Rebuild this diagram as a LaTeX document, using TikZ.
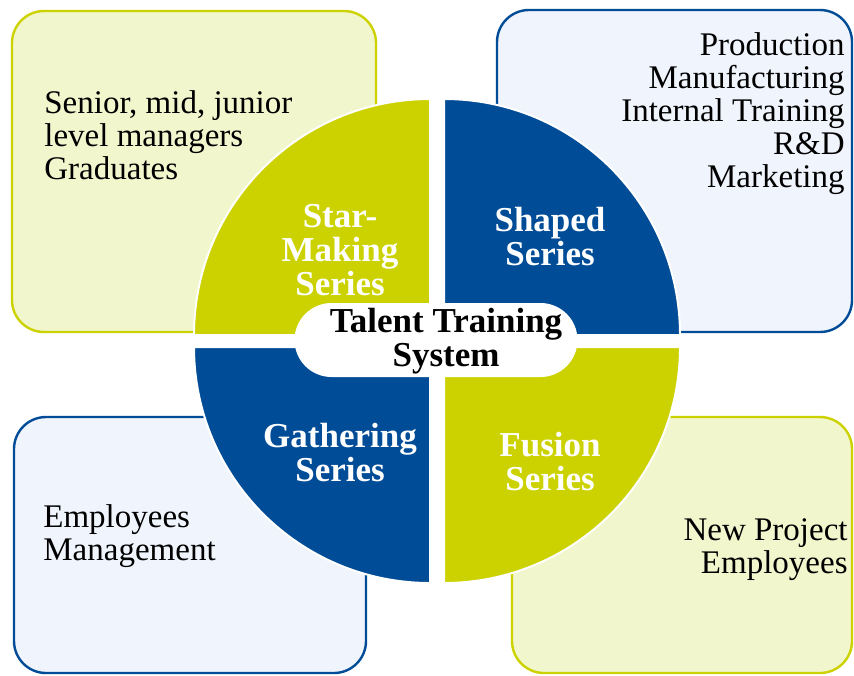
\documentclass[tikz,border=0pt]{standalone}
\usepackage{fontspec}
\setmainfont{Liberation Serif}
\definecolor{lime}{RGB}{204,210,0}
\definecolor{limepale}{RGB}{242,246,204}
\definecolor{navy}{RGB}{0,76,151}
\definecolor{navypale}{RGB}{240,244,252}

\begin{document}
\begin{tikzpicture}[x=0.5pt, y=-0.5pt,
    panel/.style={line width=1.2pt, rounded corners=16pt},
    quarter/.style={draw=white, line width=1pt},
    plain/.style={font=\fontsize{16.5}{16.5}\selectfont, inner sep=0pt},
    heavy/.style={font=\bfseries\fontsize{17.5}{17}\selectfont, inner sep=0pt, align=center}]
      \useasboundingbox (0,0) rectangle (854,675);
      % Draw the boxes
      \draw[panel, draw=lime, fill=limepale] (12,11) rectangle (376,332);
      \draw[panel, draw=navy, fill=navypale] (497,10) rectangle (852,332);
      \draw[panel, draw=navy, fill=navypale] (14,417) rectangle (366,673);
      \draw[panel, draw=lime, fill=limepale] (512,417) rectangle (852,673);
      % Draw the quarters
      \filldraw[quarter, fill=lime] (430,335) -- (194,335) arc[start angle=180, end angle=90, radius=118pt] -- cycle;
      \filldraw[quarter, fill=navy] (444,335) -- (444,99) arc[start angle=90, end angle=0, radius=118pt] -- cycle;
      \filldraw[quarter, fill=navy] (430,347) -- (194,347) arc[start angle=180, end angle=270, radius=118pt] -- cycle;
      \filldraw[quarter, fill=lime] (444,347) -- (680,347) arc[start angle=0, end angle=-90, radius=118pt] -- cycle;
      % Draw the core
      \node[fill=white, rounded corners=18.5pt, minimum width=141.5pt, minimum height=37pt, inner sep=0pt] (core) at (436,340) {};
      \node[heavy] (title) at (446,341) {Talent Training\\System};
      % Draw the series names
      \node[heavy, text=white] (star) at (340,250) {Star-\\Making\\Series};
      \node[heavy, text=white] (shaped) at (550,237) {Shaped\\Series};
      \node[heavy, text=white] (gather) at (340,453) {Gathering\\Series};
      \node[heavy, text=white] (fusion) at (550,462) {Fusion\\Series};
      % Draw the target groups
      \node[plain, align=left, anchor=west] (managers) at (44,135) {Senior, mid, junior\\level managers\\Graduates};
      \node[plain, align=right, anchor=east] (depts) at (845,114) {Production\\Manufacturing\\Internal Training\\R\&D\\Marketing};
      \node[plain, align=left, anchor=west] (staff) at (43,536) {Employees\\Management};
      \node[plain, align=right, anchor=east] (project) at (848,550) {New Project\\Employees};
\end{tikzpicture}
\end{document}
